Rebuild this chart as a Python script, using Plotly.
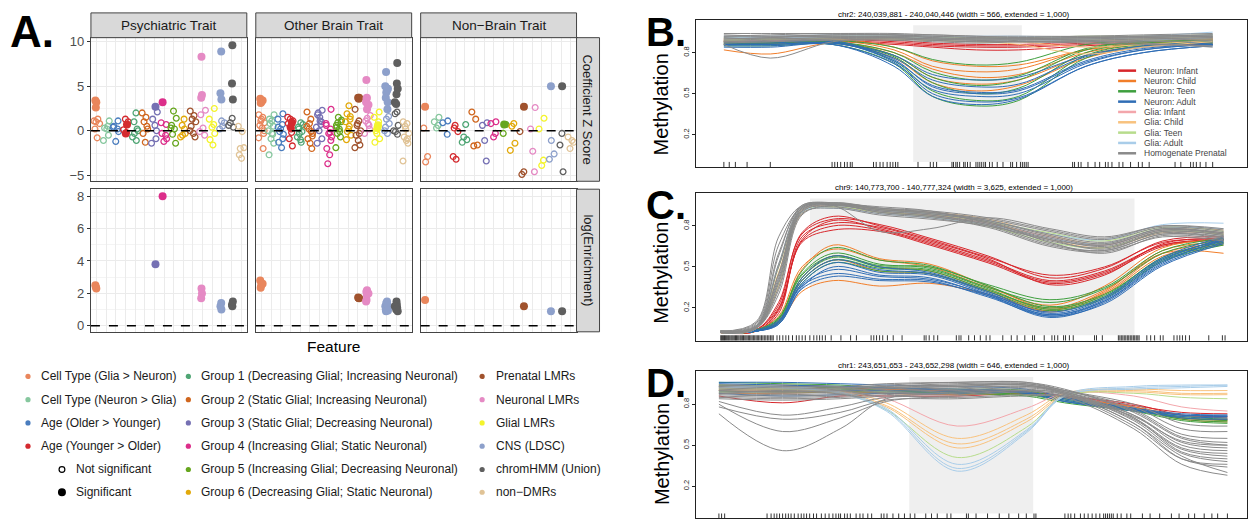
import plotly.graph_objects as go

W, H = 1248, 520
FONT = "Liberation Sans, Arial, Helvetica, sans-serif"

# ---------------- Panel A: genomic features vs. trait classes ----------------
FEATURES = [
    "Cell Type (Glia > Neuron)", "Cell Type (Neuron > Glia)",
    "Age (Older > Younger)", "Age (Younger > Older)",
    "Group 1 (Decreasing Glial; Increasing Neuronal)",
    "Group 2 (Static Glial; Increasing Neuronal)",
    "Group 3 (Static Glial; Decreasing Neuronal)",
    "Group 4 (Increasing Glial; Static Neuronal)",
    "Group 5 (Increasing Glial; Decreasing Neuronal)",
    "Group 6 (Decreasing Glial; Static Neuronal)",
    "Prenatal LMRs", "Neuronal LMRs", "Glial LMRs", "CNS (LDSC)",
    "chromHMM (Union)", "non\u2212DMRs",
]
FEATURE_COLORS = [
    "#E9865C", "#86C79E", "#4A7DBE", "#D42A2F", "#4FA574", "#D0661E",
    "#7570B3", "#DC2E8A", "#66A61E", "#E2A90A", "#A0522D", "#E58AC4",
    "#F4F42C", "#8DA0CB", "#5F5F5F", "#E0C396",
]
TRAIT_PANELS = ["Psychiatric Trait", "Other Brain Trait", "Non\u2212Brain Trait"]

# coefficient Z scores, one list per feature (not significant / significant)
PSY_Z_NS = [
    [1.1, 1.3, 1.0, 0.8, 0.2, -0.8], [1.1, 0.3, 0.2, -0.5, -1.1, 0.5],
    [1.1, 0.4, 0.2, -1.2, -0.1, 0.5], [1.3, 1.0, 0.1, -0.2],
    [2.0, 1.0, 0.2, -0.7, -1.1, -0.3, 0.0], [2.0, 1.5, 1.0, 0.2, -0.3, -1.3, 0.5],
    [2.1, 1.3, 0.6, 0.0, -1.4, -0.9], [0.7, 0.9, -0.5, -1.2, -0.9, -0.3],
    [2.2, 1.4, 0.6, 0.2, -0.4, -1.4, 0.3], [1.3, 0.6, -0.3, -0.7, 0.2, -0.5],
    [2.2, 1.7, 1.3, 1.0, 0.5, -0.3, -0.7, 0.0], [2.3, 1.8, 0.3, -0.5, -0.1],
    [2.5, 1.3, 0.7, 0.4, -0.3, -1.0, -1.6], [1.1, 0.9, 0.2, 0.5],
    [1.4, 0.9, 0.4, 0.6], [0.5, -0.1, -2.0, -1.9, -2.7, -3.1],
]
PSY_Z_SIG = [
    [3.4, 3.2, 2.6], [], [], [0.7, -0.3], [], [], [2.7], [3.2], [], [], [],
    [8.3, 4.0, 3.7], [], [8.9, 4.2, 3.5], [9.6, 5.3, 3.5], [],
]
PSY_ENRICH = [
    [2.5, 2.3, 2.4], [], [], [], [], [], [3.8], [8.0], [], [], [],
    [2.3, 2.0, 1.7], [], [1.4, 1.2, 1.0], [1.2, 1.3, 1.5], [],
]

OTHER_Z_NS = [
    [1.8, 1.5, 1.1, 0.9, 0.6, 0.3, -0.3, -0.8, -2.0, 1.3, 0.0],
    [1.8, 1.3, 1.1, 0.5, 0.0, -0.4, -0.9, -1.4, -2.7, -0.3, 0.8],
    [1.9, 1.3, 0.7, 0.2, -0.4, -1.3, -1.9, -0.1, -0.9, 0.4],
    [1.3, 1.1, 0.8, 0.2, -0.9, -1.7, 1.5, -0.2],
    [0.9, 0.2, -0.1, -0.7, -1.3, -0.3, 0.7, 0.4, -1.0],
    [2.1, 1.3, 0.2, -0.3, -0.9, -1.4, -2.0, 0.5, -0.1, 0.8, -0.6],
    [2.3, 1.8, 1.5, 1.0, 0.4, 0.7, 0.0, -0.9, -1.4, 1.1, 2.0],
    [2.4, 0.8, 0.2, -0.3, -0.7, -2.0, -2.7, -3.7, -1.1, 0.6, -0.2],
    [1.5, 1.0, 0.6, 0.2, -0.3, -0.7, -1.9, -0.1, 0.9, 1.2, 0.4],
    [2.8, 1.9, 1.3, 1.0, 0.5, -0.1, -0.5, -1.0, 0.2, 1.6],
    [2.4, 1.1, 0.6, 0.0, -0.5, -1.1, -1.6, -1.9, -0.3, 0.8],
    [1.7, 1.1, 0.8, 0.2, -0.3, 0.6, 1.4],
    [2.1, 1.5, 1.0, -0.3, -0.9, -1.3, 0.4, 0.0],
    [1.3, 0.8, 0.0, -0.3, 0.4, 1.6],
    [2.1, 1.9, 0.6, 0.0, -0.4, -0.1],
    [1.0, 0.8, 0.5, -0.3, -0.7, -1.1, -1.4, -3.4, -0.9, 0.2],
]
OTHER_Z_SIG = [
    [3.6, 3.2, 3.1, 3.4], [], [], [0.9, 0.4], [], [], [], [], [], [],
    [3.7, 3.7, 3.6], [5.7, 3.7, 3.2, 2.4, 3.6, 2.9], [0.3, 0.6],
    [6.6, 5.0, 4.3, 3.7, 3.2, 2.4, 4.7, 4.5], [7.6, 5.3, 4.7, 4.1, 3.2, 3.0], [],
]
OTHER_ENRICH = [
    [2.8, 2.5, 2.35, 2.6], [], [], [], [], [], [], [], [], [],
    [1.7, 1.75, 1.72], [2.1, 1.9, 1.5, 2.2, 1.6, 2.0], [],
    [0.9, 1.2, 1.4, 1.0, 1.1, 1.3, 0.95, 1.5], [1.1, 1.3, 0.9, 1.5, 1.2, 1.0], [],
]

NONBRAIN_Z_NS = [
    [0.3, -2.9, -3.5], [1.5, 1.0, 0.3, 0.6], [1.1, 0.9, -0.4],
    [0.6, -0.1, -2.9, -3.2, 0.3], [0.7, -0.7, -1.0, -1.3], [2.1, 1.3, -1.7, -1.6],
    [0.9, 0.6, -1.1, -3.4], [1.0, 0.8, -0.3, -0.7], [-0.3, 0.7],
    [0.8, 0.5, -1.4, -2.2], [-0.1, -4.6, -4.9], [2.6, 0.2, -2.3, -4.6],
    [1.4, 0.2, -3.3, -3.9], [-1.1, -2.6, -3.2], [-0.3, -1.6, -4.6],
    [-0.7, -1.1, -2.0, -1.3],
]
NONBRAIN_Z_SIG = [
    [2.7], [], [], [], [], [], [], [], [0.7], [], [2.7], [], [], [5.0], [5.0], [],
]
NONBRAIN_ENRICH = [
    [1.6], [], [], [], [], [], [], [], [], [], [1.2], [], [], [0.9], [0.9], [],
]

# horizontal jitter offsets cycled over points within a feature column
JITTER = [-0.28, 0.12, -0.08, 0.3, -0.18, 0.05, 0.22, -0.3, 0.16, -0.02, 0.27, -0.22, 0.08, -0.12, 0.2]

# ---------------- Panels B-D: methylation smoothed profiles ----------------
GROUPS = ["Neuron: Infant", "Neuron: Child", "Neuron: Teen", "Neuron: Adult",
          "Glia: Infant", "Glia: Child", "Glia: Teen", "Glia: Adult",
          "Homogenate Prenatal"]
GROUP_COLORS = ["#D7262B", "#F17E2A", "#3E9F3E", "#2F6DB5",
                "#F3A6AB", "#F8C27E", "#B7DC8C", "#A9CDE9", "#8A8A8A"]

REGION_TITLES = [
    "chr2: 240,039,881 - 240,040,446 (width = 566, extended = 1,000)",
    "chr9: 140,773,700 - 140,777,324 (width = 3,625, extended = 1,000)",
    "chr1: 243,651,653 - 243,652,298 (width = 646, extended = 1,000)",
]
# DMR start/end in bp from the start of the extended window
B_DMR = [1000, 1566]
C_DMR = [1000, 4625]
D_DMR = [1000, 1646]

B_KNOTS = [13, 255, 580, 900, 1100, 1330, 1550, 1900, 2200, 2561]
B_PROFILES = {
    "Neuron: Infant": [
        [0.88, 0.89, 0.89, 0.87, 0.85, 0.84, 0.84, 0.86, 0.88, 0.89],
        [0.90, 0.90, 0.90, 0.88, 0.86, 0.85, 0.85, 0.87, 0.89, 0.90],
        [0.86, 0.87, 0.88, 0.86, 0.84, 0.82, 0.82, 0.85, 0.87, 0.88],
        [0.89, 0.90, 0.90, 0.89, 0.87, 0.86, 0.86, 0.88, 0.89, 0.90]],
    "Neuron: Child": [
        [0.82, 0.79, 0.87, 0.80, 0.68, 0.62, 0.64, 0.80, 0.86, 0.87],
        [0.88, 0.88, 0.89, 0.82, 0.70, 0.66, 0.68, 0.82, 0.87, 0.88],
        [0.87, 0.87, 0.88, 0.78, 0.62, 0.57, 0.60, 0.78, 0.85, 0.86],
        [0.86, 0.86, 0.87, 0.76, 0.58, 0.52, 0.56, 0.76, 0.84, 0.86],
        [0.89, 0.89, 0.90, 0.84, 0.74, 0.70, 0.71, 0.82, 0.86, 0.87]],
    "Neuron: Teen": [
        [0.88, 0.88, 0.89, 0.84, 0.75, 0.71, 0.73, 0.86, 0.89, 0.90],
        [0.87, 0.87, 0.88, 0.80, 0.66, 0.60, 0.63, 0.83, 0.88, 0.89],
        [0.86, 0.86, 0.87, 0.77, 0.58, 0.50, 0.54, 0.80, 0.87, 0.88],
        [0.87, 0.87, 0.88, 0.74, 0.52, 0.45, 0.48, 0.78, 0.86, 0.88],
        [0.85, 0.85, 0.86, 0.72, 0.48, 0.41, 0.45, 0.76, 0.85, 0.87],
        [0.88, 0.88, 0.88, 0.78, 0.62, 0.56, 0.60, 0.82, 0.88, 0.89]],
    "Neuron: Adult": [
        [0.86, 0.86, 0.87, 0.76, 0.60, 0.55, 0.57, 0.77, 0.84, 0.87],
        [0.87, 0.87, 0.88, 0.74, 0.56, 0.51, 0.53, 0.74, 0.83, 0.86],
        [0.85, 0.85, 0.86, 0.72, 0.53, 0.48, 0.50, 0.72, 0.82, 0.86],
        [0.88, 0.88, 0.88, 0.73, 0.50, 0.44, 0.47, 0.70, 0.80, 0.85],
        [0.86, 0.86, 0.87, 0.78, 0.64, 0.60, 0.62, 0.78, 0.85, 0.88],
        [0.89, 0.89, 0.89, 0.75, 0.55, 0.50, 0.52, 0.73, 0.82, 0.86],
        [0.84, 0.84, 0.86, 0.70, 0.48, 0.42, 0.46, 0.70, 0.80, 0.85]],
    "Glia: Infant": [
        [0.90, 0.91, 0.92, 0.91, 0.90, 0.89, 0.89, 0.90, 0.91, 0.92],
        [0.88, 0.89, 0.90, 0.90, 0.89, 0.88, 0.88, 0.89, 0.90, 0.91]],
    "Glia: Child": [
        [0.89, 0.90, 0.91, 0.90, 0.89, 0.88, 0.86, 0.79, 0.84, 0.88],
        [0.91, 0.91, 0.92, 0.91, 0.90, 0.89, 0.88, 0.84, 0.86, 0.89],
        [0.90, 0.90, 0.91, 0.91, 0.90, 0.90, 0.89, 0.88, 0.89, 0.90]],
    "Glia: Teen": [
        [0.89, 0.90, 0.91, 0.91, 0.90, 0.90, 0.90, 0.90, 0.91, 0.92],
        [0.91, 0.91, 0.92, 0.92, 0.91, 0.91, 0.91, 0.92, 0.92, 0.93],
        [0.90, 0.90, 0.90, 0.90, 0.89, 0.88, 0.88, 0.89, 0.90, 0.91]],
    "Glia: Adult": [
        [0.92, 0.92, 0.93, 0.93, 0.92, 0.92, 0.92, 0.91, 0.92, 0.95],
        [0.90, 0.91, 0.92, 0.92, 0.91, 0.90, 0.90, 0.88, 0.89, 0.91],
        [0.91, 0.91, 0.91, 0.91, 0.90, 0.89, 0.89, 0.90, 0.91, 0.93]],
    "Homogenate Prenatal": [
        [0.90, 0.91, 0.92, 0.92, 0.91, 0.90, 0.90, 0.91, 0.92, 0.93],
        [0.92, 0.92, 0.93, 0.93, 0.92, 0.91, 0.91, 0.92, 0.92, 0.93],
        [0.88, 0.89, 0.90, 0.90, 0.89, 0.88, 0.89, 0.90, 0.91, 0.92],
        [0.94, 0.94, 0.94, 0.94, 0.93, 0.92, 0.92, 0.92, 0.93, 0.94],
        [0.86, 0.76, 0.88, 0.90, 0.89, 0.88, 0.88, 0.87, 0.86, 0.85],
        [0.91, 0.90, 0.91, 0.91, 0.90, 0.89, 0.88, 0.88, 0.89, 0.90],
        [0.89, 0.90, 0.91, 0.92, 0.92, 0.91, 0.90, 0.89, 0.88, 0.89],
        [0.93, 0.92, 0.92, 0.91, 0.90, 0.90, 0.90, 0.91, 0.91, 0.92],
        [0.87, 0.88, 0.89, 0.89, 0.88, 0.87, 0.88, 0.89, 0.90, 0.91],
        [0.90, 0.91, 0.93, 0.93, 0.93, 0.92, 0.91, 0.91, 0.92, 0.92],
        [0.92, 0.93, 0.94, 0.93, 0.91, 0.90, 0.90, 0.90, 0.90, 0.91],
        [0.88, 0.88, 0.90, 0.91, 0.90, 0.89, 0.88, 0.88, 0.87, 0.84]],
}
B_CPG = [13, 41, 73, 134, 255, 577, 591, 605, 622, 642, 656, 672, 682, 793, 807,
         827, 843, 864, 880, 894, 908, 920, 1025, 1089, 1105, 1122, 1202, 1210,
         1222, 1230, 1242, 1263, 1271, 1283, 1297, 1327, 1337, 1347, 1357, 1368,
         1377, 1398, 1412, 1438, 1468, 1508, 1518, 1539, 1559, 1569, 1579, 1589,
         1599, 1831, 1841, 1861, 1875, 1911, 1948, 1972, 2002, 2016, 2036, 2073,
         2093, 2133, 2174, 2194, 2230, 2365, 2395, 2446, 2460, 2476, 2496, 2526, 2561]

C_KNOTS = [0, 400, 650, 910, 1260, 1780, 2340, 2990, 3680, 4290, 4940, 5620]
C_PROFILES = {
    "Neuron: Infant": [
        [0.02, 0.04, 0.22, 0.75, 0.87, 0.80, 0.70, 0.57, 0.44, 0.50, 0.68, 0.70],
        [0.02, 0.03, 0.18, 0.70, 0.84, 0.78, 0.68, 0.55, 0.40, 0.47, 0.66, 0.69],
        [0.02, 0.04, 0.20, 0.68, 0.77, 0.76, 0.66, 0.53, 0.38, 0.45, 0.65, 0.70],
        [0.02, 0.03, 0.16, 0.72, 0.82, 0.79, 0.69, 0.56, 0.37, 0.44, 0.67, 0.71],
        [0.02, 0.04, 0.24, 0.74, 0.85, 0.81, 0.71, 0.58, 0.42, 0.49, 0.69, 0.72],
        [0.02, 0.03, 0.19, 0.69, 0.80, 0.77, 0.67, 0.54, 0.39, 0.46, 0.66, 0.70]],
    "Neuron: Child": [
        [0.02, 0.03, 0.12, 0.48, 0.66, 0.56, 0.52, 0.36, 0.20, 0.33, 0.60, 0.60],
        [0.02, 0.03, 0.10, 0.40, 0.55, 0.47, 0.45, 0.32, 0.17, 0.30, 0.58, 0.66],
        [0.02, 0.03, 0.09, 0.32, 0.40, 0.36, 0.38, 0.30, 0.18, 0.32, 0.62, 0.68],
        [0.02, 0.04, 0.14, 0.50, 0.63, 0.55, 0.50, 0.35, 0.22, 0.36, 0.64, 0.70],
        [0.02, 0.03, 0.11, 0.42, 0.58, 0.50, 0.47, 0.33, 0.19, 0.31, 0.60, 0.67]],
    "Neuron: Teen": [
        [0.02, 0.03, 0.12, 0.47, 0.64, 0.55, 0.51, 0.36, 0.21, 0.30, 0.56, 0.68],
        [0.02, 0.03, 0.10, 0.42, 0.57, 0.50, 0.48, 0.34, 0.19, 0.28, 0.55, 0.67],
        [0.02, 0.04, 0.13, 0.45, 0.60, 0.52, 0.49, 0.35, 0.24, 0.34, 0.60, 0.70],
        [0.02, 0.03, 0.09, 0.38, 0.53, 0.47, 0.45, 0.32, 0.18, 0.27, 0.54, 0.66],
        [0.02, 0.03, 0.11, 0.40, 0.55, 0.49, 0.47, 0.33, 0.20, 0.29, 0.57, 0.69],
        [0.02, 0.04, 0.12, 0.44, 0.58, 0.51, 0.50, 0.37, 0.26, 0.35, 0.62, 0.71]],
    "Neuron: Adult": [
        [0.02, 0.03, 0.10, 0.42, 0.58, 0.50, 0.46, 0.32, 0.16, 0.27, 0.56, 0.70],
        [0.02, 0.03, 0.09, 0.38, 0.53, 0.46, 0.44, 0.30, 0.14, 0.25, 0.54, 0.69],
        [0.02, 0.03, 0.08, 0.35, 0.50, 0.44, 0.42, 0.29, 0.13, 0.24, 0.52, 0.68],
        [0.02, 0.03, 0.10, 0.40, 0.55, 0.48, 0.45, 0.31, 0.15, 0.26, 0.55, 0.71],
        [0.02, 0.04, 0.11, 0.37, 0.48, 0.43, 0.41, 0.30, 0.17, 0.28, 0.57, 0.72],
        [0.02, 0.03, 0.09, 0.36, 0.45, 0.41, 0.40, 0.28, 0.14, 0.23, 0.51, 0.67],
        [0.02, 0.03, 0.08, 0.34, 0.43, 0.40, 0.39, 0.29, 0.15, 0.25, 0.53, 0.70]],
    "Glia: Infant": [
        [0.02, 0.05, 0.40, 0.90, 0.95, 0.91, 0.88, 0.82, 0.72, 0.66, 0.77, 0.75]],
    "Glia: Child": [
        [0.03, 0.06, 0.46, 0.92, 0.95, 0.92, 0.90, 0.85, 0.73, 0.67, 0.78, 0.77],
        [0.02, 0.05, 0.36, 0.89, 0.94, 0.90, 0.88, 0.83, 0.70, 0.64, 0.75, 0.74]],
    "Glia: Teen": [
        [0.03, 0.06, 0.50, 0.93, 0.96, 0.92, 0.89, 0.83, 0.75, 0.69, 0.79, 0.76],
        [0.02, 0.05, 0.38, 0.90, 0.94, 0.90, 0.87, 0.80, 0.68, 0.64, 0.76, 0.74]],
    "Glia: Adult": [
        [0.03, 0.07, 0.52, 0.93, 0.95, 0.91, 0.89, 0.84, 0.74, 0.70, 0.81, 0.82],
        [0.02, 0.05, 0.40, 0.90, 0.93, 0.89, 0.86, 0.81, 0.71, 0.67, 0.78, 0.78]],
    "Homogenate Prenatal": [
        [0.03, 0.06, 0.45, 0.93, 0.96, 0.92, 0.89, 0.83, 0.72, 0.66, 0.77, 0.74],
        [0.02, 0.05, 0.38, 0.91, 0.97, 0.93, 0.90, 0.84, 0.74, 0.68, 0.78, 0.75],
        [0.03, 0.08, 0.60, 0.94, 0.96, 0.91, 0.88, 0.81, 0.69, 0.64, 0.75, 0.72],
        [0.02, 0.05, 0.30, 0.88, 0.95, 0.90, 0.87, 0.80, 0.66, 0.62, 0.74, 0.71],
        [0.03, 0.10, 0.72, 0.95, 0.97, 0.92, 0.90, 0.85, 0.76, 0.70, 0.79, 0.76],
        [0.02, 0.06, 0.42, 0.92, 0.95, 0.76, 0.78, 0.86, 0.78, 0.72, 0.80, 0.77],
        [0.03, 0.07, 0.50, 0.93, 0.96, 0.94, 0.91, 0.82, 0.70, 0.63, 0.76, 0.73],
        [0.02, 0.05, 0.35, 0.90, 0.96, 0.92, 0.89, 0.83, 0.68, 0.60, 0.73, 0.70],
        [0.03, 0.09, 0.66, 0.94, 0.97, 0.93, 0.90, 0.84, 0.73, 0.67, 0.78, 0.74],
        [0.02, 0.05, 0.40, 0.91, 0.94, 0.89, 0.86, 0.79, 0.65, 0.61, 0.72, 0.69],
        [0.03, 0.07, 0.58, 0.95, 0.96, 0.93, 0.91, 0.86, 0.77, 0.71, 0.80, 0.78],
        [0.02, 0.06, 0.44, 0.92, 0.95, 0.91, 0.88, 0.82, 0.71, 0.65, 0.76, 0.73],
        [0.03, 0.05, 0.33, 0.89, 0.93, 0.88, 0.85, 0.80, 0.70, 0.66, 0.77, 0.75],
        [0.02, 0.06, 0.52, 0.94, 0.96, 0.90, 0.87, 0.81, 0.67, 0.62, 0.74, 0.72]],
}
C_CPG = [4, 14, 25, 36, 46, 58, 70, 82, 93, 105, 118, 130, 142, 155, 168, 180, 193,
         206, 220, 232, 245, 258, 272, 285, 298, 312, 326, 340, 354, 368, 383, 398,
         412, 427, 442, 458, 474, 490, 507, 524, 541, 558, 575, 590, 632, 662, 697,
         731, 762, 805, 848, 878, 913, 948, 999, 1043, 1077, 1108, 1138, 1172, 1237,
         1346, 1454, 1519, 1683, 1713, 1744, 1778, 1813, 1865, 1930, 2029, 2276,
         2297, 2332, 2384, 2427, 2635, 2665, 2687, 2773, 2838, 2903, 2968, 3011,
         3154, 3249, 3314, 3400, 3487, 3509, 3617, 3703, 3733, 3768, 3833, 3855,
         3898, 3941, 4179, 4201, 4266, 4445, 4462, 4478, 4495, 4511, 4528, 4545,
         4561, 4578, 4595, 4612, 4628, 4645, 4662, 4677, 4763, 4806, 4850, 4914,
         4945, 5066, 5101, 5131, 5161, 5196, 5239, 5455, 5607, 5637]

D_KNOTS = [8, 340, 640, 880, 1250, 1610, 1810, 2170, 2420, 2658]
D_PROFILES = {
    "Neuron: Infant": [
        [0.86, 0.81, 0.86, 0.86, 0.86, 0.88, 0.86, 0.79, 0.74, 0.73],
        [0.90, 0.89, 0.90, 0.90, 0.89, 0.89, 0.86, 0.80, 0.72, 0.71],
        [0.93, 0.93, 0.92, 0.91, 0.90, 0.89, 0.85, 0.78, 0.70, 0.69]],
    "Neuron: Child": [
        [0.91, 0.91, 0.90, 0.88, 0.87, 0.87, 0.84, 0.76, 0.70, 0.68],
        [0.94, 0.94, 0.93, 0.91, 0.90, 0.89, 0.85, 0.77, 0.69, 0.67],
        [0.88, 0.88, 0.89, 0.88, 0.87, 0.88, 0.85, 0.78, 0.72, 0.70]],
    "Neuron: Teen": [
        [0.96, 0.95, 0.94, 0.92, 0.91, 0.90, 0.84, 0.76, 0.69, 0.67],
        [0.92, 0.92, 0.91, 0.90, 0.89, 0.88, 0.83, 0.75, 0.68, 0.66],
        [0.89, 0.89, 0.89, 0.89, 0.88, 0.87, 0.82, 0.76, 0.71, 0.69],
        [0.94, 0.93, 0.92, 0.90, 0.88, 0.86, 0.81, 0.75, 0.70, 0.68]],
    "Neuron: Adult": [
        [0.96, 0.96, 0.95, 0.94, 0.93, 0.91, 0.85, 0.77, 0.72, 0.71],
        [0.93, 0.93, 0.93, 0.92, 0.91, 0.89, 0.83, 0.76, 0.70, 0.69],
        [0.90, 0.90, 0.90, 0.90, 0.89, 0.88, 0.82, 0.75, 0.71, 0.70],
        [0.88, 0.86, 0.87, 0.88, 0.88, 0.88, 0.82, 0.76, 0.72, 0.72],
        [0.95, 0.94, 0.93, 0.92, 0.90, 0.89, 0.84, 0.77, 0.73, 0.72]],
    "Glia: Infant": [
        [0.90, 0.90, 0.89, 0.84, 0.64, 0.77, 0.88, 0.86, 0.78, 0.75]],
    "Glia: Child": [
        [0.92, 0.92, 0.90, 0.81, 0.55, 0.72, 0.88, 0.91, 0.90, 0.90],
        [0.91, 0.91, 0.89, 0.79, 0.51, 0.69, 0.87, 0.90, 0.88, 0.88],
        [0.90, 0.90, 0.88, 0.78, 0.48, 0.67, 0.86, 0.89, 0.87, 0.87]],
    "Glia: Teen": [
        [0.91, 0.91, 0.88, 0.76, 0.41, 0.63, 0.86, 0.88, 0.85, 0.84]],
    "Glia: Adult": [
        [0.93, 0.93, 0.89, 0.77, 0.36, 0.61, 0.87, 0.93, 0.94, 0.94],
        [0.92, 0.92, 0.88, 0.76, 0.33, 0.60, 0.86, 0.92, 0.93, 0.94],
        [0.93, 0.92, 0.88, 0.75, 0.31, 0.59, 0.86, 0.91, 0.92, 0.93]],
    "Homogenate Prenatal": [
        [0.73, 0.46, 0.62, 0.84, 0.87, 0.90, 0.88, 0.70, 0.45, 0.40],
        [0.80, 0.60, 0.70, 0.82, 0.86, 0.89, 0.87, 0.66, 0.40, 0.34],
        [0.82, 0.72, 0.78, 0.85, 0.85, 0.87, 0.86, 0.72, 0.52, 0.48],
        [0.78, 0.69, 0.74, 0.83, 0.84, 0.86, 0.85, 0.62, 0.36, 0.28],
        [0.90, 0.89, 0.90, 0.92, 0.94, 0.95, 0.90, 0.76, 0.58, 0.55],
        [0.92, 0.91, 0.92, 0.94, 0.96, 0.96, 0.91, 0.74, 0.55, 0.50],
        [0.88, 0.87, 0.88, 0.90, 0.92, 0.93, 0.89, 0.70, 0.48, 0.44],
        [0.86, 0.85, 0.86, 0.88, 0.90, 0.92, 0.88, 0.68, 0.44, 0.38],
        [0.94, 0.93, 0.93, 0.95, 0.96, 0.96, 0.90, 0.78, 0.62, 0.60],
        [0.89, 0.88, 0.89, 0.91, 0.93, 0.94, 0.89, 0.72, 0.50, 0.46],
        [0.91, 0.90, 0.91, 0.93, 0.95, 0.95, 0.90, 0.80, 0.66, 0.64],
        [0.85, 0.84, 0.85, 0.87, 0.89, 0.91, 0.87, 0.64, 0.40, 0.36],
        [0.87, 0.86, 0.87, 0.89, 0.91, 0.93, 0.88, 0.69, 0.47, 0.42],
        [0.93, 0.92, 0.92, 0.93, 0.94, 0.94, 0.89, 0.75, 0.56, 0.52],
        [0.84, 0.83, 0.84, 0.86, 0.88, 0.90, 0.86, 0.71, 0.53, 0.50],
        [0.90, 0.89, 0.90, 0.92, 0.93, 0.94, 0.88, 0.66, 0.42, 0.30]],
}
D_CPG = [8, 22, 38, 259, 280, 296, 310, 324, 340, 356, 370, 384, 401, 421, 437, 451,
         465, 481, 501, 517, 542, 562, 582, 602, 618, 632, 642, 663, 677, 693, 723,
         743, 759, 784, 804, 854, 868, 884, 915, 945, 975, 1005, 1029, 1086, 1116,
         1146, 1197, 1217, 1298, 1308, 1348, 1408, 1469, 1519, 1570, 1610, 1650,
         1660, 1811, 1828, 1842, 1862, 1892, 1912, 1932, 1953, 1973, 1993, 2013,
         2023, 2033, 2043, 2053, 2063, 2084, 2104, 2134, 2154, 2215, 2255, 2305,
         2366, 2406, 2456, 2487, 2537, 2577, 2607, 2658]


# ---------------- layout helpers (pixel -> paper) ----------------
def px(x):
    return x / W


def py(y):
    return 1 - y / H


fig = go.Figure()
axes = {}
shapes = []
annotations = []


def label(text, x, y, size, color="#1A1A1A", xanchor="center", angle=0):
    annotations.append(dict(text=text, xref="paper", yref="paper", x=px(x), y=py(y),
                            xanchor=xanchor, yanchor="middle", showarrow=False,
                            textangle=angle,
                            font=dict(size=size, color=color, family=FONT)))


def ax_names(n):
    s = "" if n == 1 else str(n)
    return "x" + s, "y" + s, "xaxis" + s, "yaxis" + s


# Panel A geometry
A_COLS = [(91, 247), (256, 412), (421, 577)]
A_TOP = (35, 180)
A_BOT = (188, 332)
GRID = "#EBEBEB"
BORDER = "#444444"

panel_data = [
    (PSY_Z_NS, PSY_Z_SIG, PSY_ENRICH),
    (OTHER_Z_NS, OTHER_Z_SIG, OTHER_ENRICH),
    (NONBRAIN_Z_NS, NONBRAIN_Z_SIG, NONBRAIN_ENRICH),
]

for col, (x0, x1) in enumerate(A_COLS):
    z_ns, z_sig, enrich = panel_data[col]
    for row, (y0, y1) in enumerate([A_TOP, A_BOT]):
        n = 1 + col + 3 * row
        xr, yr, xk, yk = ax_names(n)
        left = col == 0
        if row == 0:
            yrange, ytv, ymin = [-5.67, 10.44], [-5, 0, 5, 10], [-2.5, 2.5, 7.5]
        else:
            yrange, ytv, ymin = [-0.37, 8.43], [0, 2, 4, 6, 8], [1, 3, 5, 7]
        axes[xk] = dict(domain=[px(x0), px(x1)], anchor=yr, range=[0.4, 16.6],
                        tickvals=list(range(1, 17)), showticklabels=False, ticks="",
                        showgrid=True, gridcolor=GRID, gridwidth=1.1, zeroline=False,
                        showline=True, mirror=True, linecolor=BORDER, linewidth=1)
        axes[yk] = dict(domain=[py(y1), py(y0)], anchor=xr, range=yrange,
                        tickvals=ytv, showticklabels=left,
                        ticks="outside" if left else "", ticklen=3, tickcolor="#333333",
                        tickfont=dict(size=13, color="#4D4D4D", family=FONT),
                        showgrid=True, gridcolor=GRID, gridwidth=1.1, zeroline=False,
                        minor=dict(tickvals=ymin, showgrid=True, gridcolor="#F4F4F4",
                                   gridwidth=0.7, ticks=""),
                        showline=True, mirror=True, linecolor=BORDER, linewidth=1)
        shapes.append(dict(type="line", xref=xr + " domain", yref=yr, x0=0, x1=1,
                           y0=0, y1=0, line=dict(color="black", width=1.5, dash="dash")))

        if row == 0:
            xs, ys, cs = [], [], []
            for k, vals in enumerate(z_ns):
                for i, v in enumerate(vals):
                    xs.append(k + 1 + JITTER[(i + 3 * k) % len(JITTER)])
                    ys.append(v)
                    cs.append(FEATURE_COLORS[k])
            fig.add_trace(go.Scatter(
                x=xs, y=ys, xaxis=xr, yaxis=yr, mode="markers", hoverinfo="skip",
                showlegend=False,
                marker=dict(symbol="circle-open", size=5.8, color=cs,
                            line=dict(width=1.3))))
            groups = z_sig
        else:
            groups = enrich
        xs, ys, cs = [], [], []
        for k, vals in enumerate(groups):
            for i, v in enumerate(vals):
                xs.append(k + 1 + 0.5 * JITTER[(2 * i + k) % len(JITTER)])
                ys.append(v)
                cs.append(FEATURE_COLORS[k])
        fig.add_trace(go.Scatter(
            x=xs, y=ys, xaxis=xr, yaxis=yr, mode="markers", hoverinfo="skip",
            showlegend=False, marker=dict(symbol="circle", size=8, color=cs,
                                          line=dict(width=0))))

    # facet strip on top
    shapes.append(dict(type="rect", xref="paper", yref="paper", x0=px(x0), x1=px(x1),
                       y0=py(35), y1=py(10), fillcolor="#D9D9D9",
                       line=dict(color=BORDER, width=1)))
    label(TRAIT_PANELS[col], (x0 + x1) / 2, 23, 13.5)

# facet strips on the right
for (y0, y1), text in [(A_TOP, "Coefficient Z Score"), (A_BOT, "log(Enrichment)")]:
    shapes.append(dict(type="rect", xref="paper", yref="paper", x0=px(577), x1=px(600),
                       y0=py(y1), y1=py(y0), fillcolor="#D9D9D9",
                       line=dict(color=BORDER, width=1)))
    label(text, 588.5, (y0 + y1) / 2, 13, angle=90)

label("Feature", 334, 347, 15.5, color="black")
label("<b>A.</b>", 8, 29, 44, color="black", xanchor="left")

# Panel A legend (three columns of keys)
ROW_Y = [377, 400.5, 424, 447.5, 471, 494]
LEGEND_COLS = [(28, 39, range(0, 4)), (188.5, 199, range(4, 10)), (482.5, 494, range(10, 16))]
for dot_x, text_x, idx in LEGEND_COLS:
    for r, k in enumerate(idx):
        cy = ROW_Y[r]
        shapes.append(dict(type="circle", xref="paper", yref="paper",
                           x0=px(dot_x - 2.6), x1=px(dot_x + 2.6),
                           y0=py(cy + 2.6), y1=py(cy - 2.6),
                           fillcolor=FEATURE_COLORS[k], line=dict(width=0)))
        label(FEATURES[k], text_x, cy, 12, xanchor="left")
for r, (text, filled) in enumerate([("Not significant", False), ("Significant", True)]):
    cy = ROW_Y[4 + r]
    rad = 4 if filled else 2.9
    shapes.append(dict(type="circle", xref="paper", yref="paper",
                       x0=px(62 - rad), x1=px(62 + rad), y0=py(cy + rad), y1=py(cy - rad),
                       fillcolor="black" if filled else "white",
                       line=dict(color="black", width=0 if filled else 1.2)))
    label(text, 74, cy, 12, xanchor="left")

# ---------------- Panels B-D ----------------
REGION_PANELS = [
    ("B", B_KNOTS, B_PROFILES, B_CPG, B_DMR, (17, 166), [-130, 2740], 12, 102),
    ("C", C_KNOTS, C_PROFILES, C_CPG, C_DMR, (192, 341), [-268, 5882], 186, 272),
    ("D", D_KNOTS, D_PROFILES, D_CPG, D_DMR, (372, 520), [-109, 2760], 366, 455),
]
for j, (letter, knots, profiles, cpgs, dmr, (y0, y1), xrange, ty, ly) in enumerate(REGION_PANELS):
    n = 7 + j
    xr, yr, xk, yk = ax_names(n)
    yrange = [-0.04, 1.04] if letter != "D" else [-0.033, 1.04]
    axes[xk] = dict(domain=[px(697), 1.0], anchor=yr, range=xrange,
                    showticklabels=False, ticks="", showgrid=False, zeroline=False,
                    showline=True, mirror=True, linecolor="#222222", linewidth=1)
    axes[yk] = dict(domain=[py(y1), py(y0)], anchor=xr, range=yrange,
                    tickvals=[0.2, 0.5, 0.8], ticktext=["0.2", "0.5", "0.8"],
                    tickangle=-90, ticks="outside", ticklen=3, tickcolor="#222222",
                    tickfont=dict(size=7.5, color="#222222", family=FONT),
                    showgrid=False, zeroline=False,
                    showline=True, mirror=True, linecolor="#222222", linewidth=1)
    shapes.append(dict(type="rect", xref=xr, yref=yr, x0=dmr[0], x1=dmr[1], y0=0, y1=1,
                       fillcolor="#EFEFEF", line=dict(width=0), layer="below"))
    for g, color in zip(GROUPS, GROUP_COLORS):
        xs, ys = [], []
        for prof in profiles[g]:
            xs += list(knots) + [None]
            ys += list(prof) + [None]
        fig.add_trace(go.Scatter(
            x=xs, y=ys, xaxis=xr, yaxis=yr, mode="lines", hoverinfo="skip",
            showlegend=False,
            line=dict(color=color, width=1, shape="spline", smoothing=1.0)))
    rx, ry = [], []
    for c in cpgs:
        rx += [c, c, None]
        ry += [yrange[0], 0.0, None]
    fig.add_trace(go.Scatter(x=rx, y=ry, xaxis=xr, yaxis=yr, mode="lines",
                             hoverinfo="skip", showlegend=False,
                             line=dict(color="black", width=0.8)))
    label(REGION_TITLES[j], 955, ty, 8, color="black")
    label("Methylation", 662, ly, 20, color="black", angle=-90)
    label("<b>%s.</b>" % letter, 645, y0 + 12, 40, color="black", xanchor="left")

# line legend inside panel B
for i, (g, color) in enumerate(zip(GROUPS, GROUP_COLORS)):
    cy = 68.3 + 10.43 * i
    shapes.append(dict(type="line", xref="paper", yref="paper", x0=px(1119), x1=px(1137),
                       y0=py(cy), y1=py(cy), line=dict(color=color, width=2.5)))
    label(g, 1143, cy, 8.5, color="#444444", xanchor="left")

fig.update_layout(
    width=W, height=H, margin=dict(l=0, r=0, t=0, b=0),
    paper_bgcolor="white", plot_bgcolor="white", showlegend=False,
    shapes=shapes, annotations=annotations, font=dict(family=FONT), **axes,
)

fig.write_html("out.html")
